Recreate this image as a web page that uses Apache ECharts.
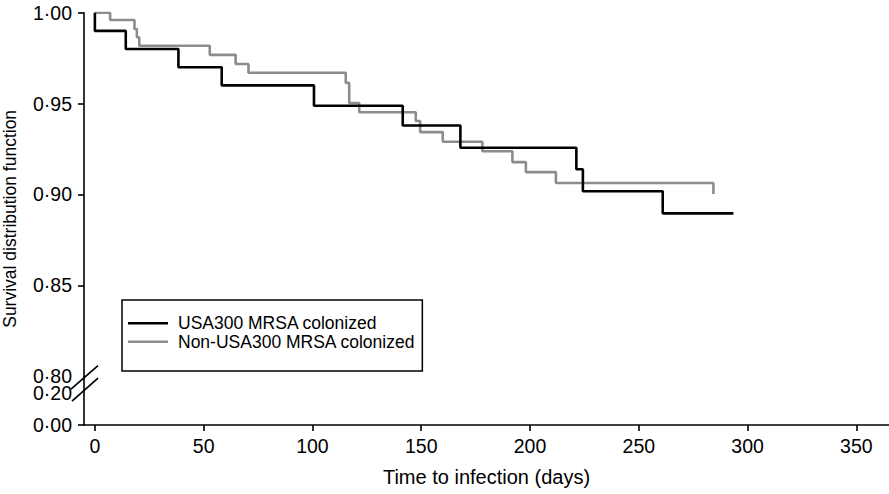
<!DOCTYPE html>
<html>
<head>
<meta charset="utf-8">
<script src="https://cdn.jsdelivr.net/npm/echarts@6/dist/echarts.min.js"></script>
<style>
html,body{margin:0;padding:0;background:#fff;}
#chart{width:889px;height:494px;}
</style>
</head>
<body>
<div id="chart"></div>
<script>
// ---- data (Kaplan-Meier steps) ----
const seriesNames = ['USA300 MRSA colonized', 'Non-USA300 MRSA colonized'];
const usaDays = [0, 0, 14.2, 38.4, 58.3, 100.7, 141.5, 168, 221.3, 224.3, 261, 293.5];
const usaSurv = [1.00, 0.990, 0.980, 0.970, 0.960, 0.9488, 0.9379, 0.9257, 0.9139, 0.9018, 0.8896, 0.8896];
const nonDays = [0, 7.0, 18.2, 19.3, 20.4, 52.8, 64.7, 70.6, 115.3, 116.9, 121.5, 147.5, 149.5, 159.9, 178.1, 191.9, 198.1, 211.9, 284.3];
const nonSurv = [1.00, 0.9960, 0.9910, 0.9865, 0.9818, 0.9768, 0.9718, 0.9670, 0.9614, 0.9503, 0.9452, 0.9404, 0.9343, 0.9290, 0.9238, 0.9178, 0.9123, 0.9063, 0.9003];
const xTicks = [0, 50, 100, 150, 200, 250, 300, 350];
const yLabelsTop = [0.80, 0.85, 0.90, 0.95, 1.00];
const yTicksTop = [0.85, 0.90, 0.95, 1.00];
const yLabelsBottom = [0.00, 0.20];
const yTicksBottom = [0.00];
const xTitle = 'Time to infection (days)';
const yTitle = 'Survival distribution function';

const zip = (a, b) => a.map((v, i) => [v, b[i]]);
const fmt = v => v.toFixed(2).replace('.', '\u00B7');
const FONT = 'Liberation Sans, Arial, Helvetica, sans-serif';

const chart = echarts.init(document.getElementById('chart'), null, {renderer: 'svg'});

const axisLine = {show: true, onZero: false, lineStyle: {color: '#000', width: 1.6}};
const option = {
  animation: false,
  backgroundColor: '#fff',
  grid: [
    {left: 84, right: 0, top: 12.7, height: 363.5, outerBoundsMode: 'none', containLabel: false},
    {left: 84, right: 0, top: 376.2, height: 48.8, outerBoundsMode: 'none', containLabel: false}
  ],
  xAxis: [
    {type: 'value', gridIndex: 0, min: -5, max: 365, show: false, splitLine: {show: false}},
    {type: 'value', gridIndex: 1, min: -5, max: 365,
      axisLine: axisLine,
      axisTick: {show: true, length: 6, customValues: xTicks, lineStyle: {color: '#000', width: 1.6}},
      axisLabel: {customValues: xTicks, margin: 11, color: '#000', fontSize: 19.5, fontFamily: FONT},
      splitLine: {show: false},
      name: xTitle, nameLocation: 'middle', nameGap: 42,
      nameTextStyle: {color: '#000', fontSize: 20, fontFamily: FONT}
    }
  ],
  yAxis: [
    {type: 'value', gridIndex: 0, min: 0.8, max: 1.0,
      axisLine: axisLine,
      axisTick: {show: true, length: 6, customValues: yTicksTop, lineStyle: {color: '#000', width: 1.6}},
      axisLabel: {customValues: yLabelsTop, formatter: fmt, margin: 12, color: '#000', fontSize: 19.5, lineHeight: 14, fontFamily: FONT},
      splitLine: {show: false}
    },
    {type: 'value', gridIndex: 1, min: 0, max: 0.308,
      axisLine: axisLine,
      axisTick: {show: true, length: 6, customValues: yTicksBottom, lineStyle: {color: '#000', width: 1.6}},
      axisLabel: {customValues: yLabelsBottom, formatter: fmt, margin: 12, color: '#000', fontSize: 19.5, lineHeight: 14, fontFamily: FONT},
      splitLine: {show: false}
    }
  ],
  legend: {
    left: 122, top: 300,
    orient: 'vertical',
    data: seriesNames.map(n => ({name: n, icon: 'rect'})),
    itemWidth: 40, itemHeight: 2.6, itemGap: 0.4,
    padding: [14.3, 7, 20.3, 6],
    borderColor: '#000', borderWidth: 1.5,
    textStyle: {color: '#000', fontSize: 17.5, fontFamily: FONT, lineHeight: 18, padding: [0, 0, 0, 5]}
  },
  series: [
    {name: seriesNames[1], type: 'line', xAxisIndex: 0, yAxisIndex: 0, step: 'end',
      data: zip(nonDays, nonSurv), symbol: 'none', showSymbol: false,
      lineStyle: {color: '#8c8c8c', width: 2.6}, itemStyle: {color: '#8c8c8c'}, z: 2},
    {name: seriesNames[0], type: 'line', xAxisIndex: 0, yAxisIndex: 0, step: 'end',
      data: zip(usaDays, usaSurv), symbol: 'none', showSymbol: false,
      lineStyle: {color: '#000', width: 2.6}, itemStyle: {color: '#000'}, z: 3}
  ]
};
chart.setOption(option);

// axis decorations: break marks and y-axis title placed from the axes' own pixel scale
const pBreak = chart.convertToPixel({gridIndex: 0}, [-5, 0.8]);
const pTop = chart.convertToPixel({gridIndex: 0}, [-5, 1.0]);
const pBottom = chart.convertToPixel({gridIndex: 1}, [-5, 0]);
const ax = pBreak[0], by = pBreak[1];
chart.setOption({
  graphic: [
    {type: 'line', shape: {x1: ax - 13, y1: by + 13, x2: ax + 14, y2: by - 10.5},
      style: {stroke: '#000', lineWidth: 1.7}, z: 10},
    {type: 'line', shape: {x1: ax - 12, y1: by + 25, x2: ax + 14, y2: by + 2},
      style: {stroke: '#000', lineWidth: 1.7}, z: 10},
    {type: 'text', x: ax - 74, y: (pTop[1] + pBottom[1]) / 2, rotation: Math.PI / 2,
      style: {text: yTitle, fill: '#000', font: '17.5px ' + FONT, align: 'center', verticalAlign: 'middle'}, z: 10}
  ]
});
</script>
</body>
</html>
